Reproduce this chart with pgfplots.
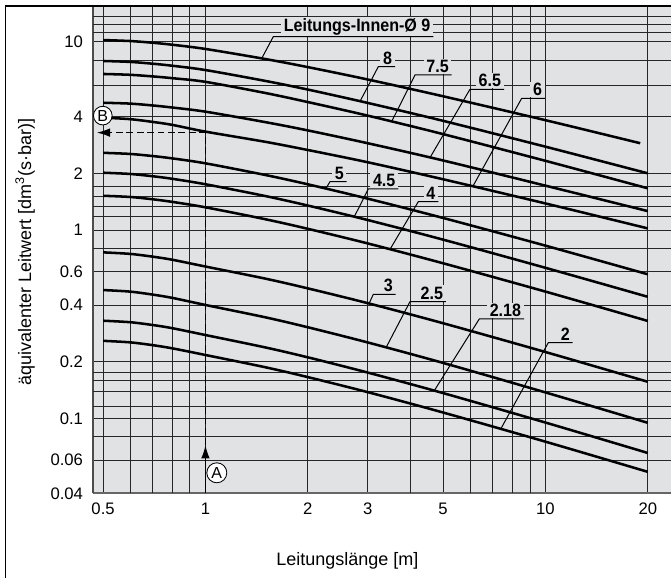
\documentclass[border=0pt]{standalone}
\usepackage{pgfplots}
\pgfplotsset{compat=1.18}
\usepackage{fontspec}
\setmainfont{Liberation Sans}
\newfontfamily\condfont[FakeStretch=0.9]{Liberation Sans}
\usetikzlibrary{arrows.meta}
\definecolor{bg}{RGB}{225,226,228}
\tikzset{
  curve/.style={black, line width=1.9pt, smooth, tension=0.5},
  lbl/.style={font=\condfont\bfseries\fontsize{13.4}{15}\selectfont, fill=bg, inner xsep=2pt, inner ysep=1pt, text=black},
  ldr/.style={black, line width=0.75pt},
}
\begin{document}
\begin{tikzpicture}
\path[use as bounding box] (0,0) rectangle (503.25pt,433.5pt);
\begin{axis}[
  at={(69.75pt,63.525pt)}, anchor=south west,
  scale only axis, width=433.5pt, height=365.475pt,
  xmode=log, ymode=log,
  xmin=0.467, xmax=23.4, ymin=0.04, ymax=15.47,
  axis background/.style={fill=bg},
  axis x line*=bottom, axis y line*=left,
  x axis line style={draw=black!60, line width=1.6pt},
  y axis line style={draw=black!70, line width=1pt},
  xtick={0.5,1,2,3,5,10,20}, xticklabels={0.5,1,2,3,5,10,20},
  extra x ticks={0.6,0.7,0.8,0.9,4,6,7,8,9}, extra x tick labels={},
  ytick={0.04,0.06,0.1,0.2,0.4,0.6,1,2,4,10},
  yticklabels={0.04,0.06,0.1,0.2,0.4,0.6,1,2,4,10},
  extra y ticks={0.08,0.1152,0.1384,0.1598,0.1746,0.8,1.187,1.329,1.503,1.713,5.85,8,11.16,12.42,13.69},
  extra y tick labels={},
  grid=major, major grid style={black!85, line width=0.6pt},
  extra tick style={grid=major, major grid style={black!85, line width=0.6pt}},
  major tick length=0pt, minor tick num=0, tick style={draw=none},
  xticklabel style={font=\fontsize{12.5}{14}\selectfont, inner sep=0pt, anchor=north, yshift=-7.3pt},
  yticklabel style={font=\fontsize{12.5}{14}\selectfont, inner sep=0pt, anchor=east, xshift=-7.3pt},
]
% Leitungs-Innen-Ø 9
\addplot[curve] coordinates {(0.5,10.2) (0.6,10.08) (0.7,9.87) (0.8,9.63) (1,9.15) (1.5,8.09) (2,7.33) (3,6.30) (5,5.13) (10,3.83) (19,2.89)};
% 8
\addplot[curve] coordinates {(0.5,7.9) (0.6,7.81) (0.7,7.64) (0.8,7.45) (1,7.07) (1.5,6.19) (2,5.57) (3,4.73) (5,3.80) (10,2.77) (20,2.0)};
% 7.5
\addplot[curve] coordinates {(0.5,6.74) (0.6,6.67) (0.7,6.54) (0.8,6.40) (1,6.12) (1.5,5.34) (2,4.78) (3,4.05) (5,3.23) (10,2.33) (20,1.665)};
% 6.5
\addplot[curve] coordinates {(0.5,4.74) (0.6,4.69) (0.7,4.585) (0.8,4.47) (1,4.25) (1.5,3.74) (2,3.38) (3,2.89) (5,2.34) (10,1.72) (20,1.26)};
% 6
\addplot[curve] coordinates {(0.5,3.95) (0.6,3.88) (0.7,3.75) (0.8,3.615) (1,3.33) (1.5,2.94) (2,2.66) (3,2.29) (5,1.86) (10,1.384) (20,1.02)};
% 5
\addplot[curve] coordinates {(0.5,2.57) (0.6,2.535) (0.7,2.47) (0.8,2.40) (1,2.26) (1.5,1.96) (2,1.749) (3,1.468) (5,1.159) (10,0.826) (20,0.582)};
% 4.5
\addplot[curve] coordinates {(0.5,2.015) (0.6,1.985) (0.7,1.93) (0.8,1.87) (1,1.75) (1.5,1.515) (2,1.349) (3,1.13) (5,0.889) (10,0.630) (20,0.442)};
% 4
\addplot[curve] coordinates {(0.5,1.52) (0.6,1.498) (0.7,1.456) (0.8,1.41) (1,1.32) (1.5,1.141) (2,1.015) (3,0.849) (5,0.666) (10,0.471) (20,0.329)};
% 3
\addplot[curve] coordinates {(0.5,0.761) (0.6,0.747) (0.7,0.722) (0.8,0.695) (1,0.64) (1.5,0.552) (2,0.490) (3,0.409) (5,0.32) (10,0.225) (20,0.1564)};
% 2.5
\addplot[curve] coordinates {(0.5,0.48) (0.6,0.471) (0.7,0.454) (0.8,0.436) (1,0.40) (1.5,0.344) (2,0.3046) (3,0.253) (5,0.197) (10,0.1373) (20,0.0947)};
% 2.18
\addplot[curve] coordinates {(0.5,0.33) (0.6,0.324) (0.7,0.313) (0.8,0.301) (1,0.277) (1.5,0.238) (2,0.2109) (3,0.1751) (5,0.1362) (10,0.095) (20,0.0655)};
% 2
\addplot[curve] coordinates {(0.5,0.258) (0.6,0.2533) (0.7,0.2447) (0.8,0.2353) (1,0.217) (1.5,0.1868) (2,0.1656) (3,0.1378) (5,0.1074) (10,0.0752) (20,0.052)};

% labels
\node[lbl, anchor=base east] at (rel axis cs:0.5888,0.9472) {Leitungs-Innen-Ø 9};
\node[lbl, anchor=base east] at (rel axis cs:0.5225,0.8806) {8};
\node[lbl, anchor=base east] at (rel axis cs:0.6206,0.8636) {7.5};
\node[lbl, anchor=base east] at (rel axis cs:0.7111,0.8342) {6.5};
\node[lbl, anchor=base east] at (rel axis cs:0.7820,0.8157) {6};
\node[lbl, anchor=base east] at (rel axis cs:0.4389,0.6446) {5};
\node[lbl, anchor=base east] at (rel axis cs:0.5282,0.6296) {4.5};
\node[lbl, anchor=base east] at (rel axis cs:0.5974,0.6035) {4};
\node[lbl, anchor=base east] at (rel axis cs:0.5237,0.4135) {3};
\node[lbl, anchor=base east] at (rel axis cs:0.6107,0.3983) {2.5};
\node[lbl, anchor=base east] at (rel axis cs:0.7457,0.3628) {2.18};
\node[lbl, anchor=base east] at (rel axis cs:0.8299,0.3142) {2};

\draw[ldr] (axis cs:1.464,8.15) -- (rel axis cs:0.3119,0.9370) -- (rel axis cs:0.5888,0.9370);
\draw[ldr] (axis cs:2.85,4.83) -- (rel axis cs:0.4936,0.8754) -- (rel axis cs:0.5225,0.8754);
\draw[ldr] (axis cs:3.53,3.77) -- (rel axis cs:0.5571,0.8584) -- (rel axis cs:0.6206,0.8584);
\draw[ldr] (axis cs:4.58,2.43) -- (rel axis cs:0.6522,0.8291) -- (rel axis cs:0.7111,0.8291);
\draw[ldr] (axis cs:6.12,1.71) -- (rel axis cs:0.7417,0.8106) -- (rel axis cs:0.7820,0.8106);
\draw[ldr] (axis cs:2.26,1.66) -- (rel axis cs:0.4100,0.6394) -- (rel axis cs:0.4389,0.6394);
\draw[ldr] (axis cs:2.74,1.176) -- (rel axis cs:0.4763,0.6245) -- (rel axis cs:0.5282,0.6245);
\draw[ldr] (axis cs:3.49,0.79) -- (rel axis cs:0.5628,0.5984) -- (rel axis cs:0.5974,0.5984);
\draw[ldr] (axis cs:3.03,0.4078) -- (rel axis cs:0.4850,0.4084) -- (rel axis cs:0.5237,0.4084);
\draw[ldr] (axis cs:3.4,0.238) -- (rel axis cs:0.5484,0.3932) -- (rel axis cs:0.6107,0.3932);
\draw[ldr] (axis cs:4.71,0.1403) -- (rel axis cs:0.6683,0.3577) -- (rel axis cs:0.7457,0.3577);
\draw[ldr] (axis cs:7.39,0.0879) -- (rel axis cs:0.7877,0.3091) -- (rel axis cs:0.8299,0.3091);

% reading example A -> B
\draw[black, line width=1.1pt, dash pattern=on 5pt off 2.8pt] (axis cs:1,0.0721) -- (axis cs:1,3.29) -- (axis cs:0.52,3.29);
\draw[black, line width=1.1pt, -{Latex[length=10pt,width=6.5pt]}] (axis cs:1,0.04) -- (axis cs:1,0.0721);
\draw[black, line width=1.1pt, -{Latex[length=10pt,width=6.5pt]}] (axis cs:0.53,3.29) -- (axis cs:0.479,3.29);
\node[circle, draw=black, fill=white, line width=0.65pt, inner sep=0pt, minimum size=15pt, font=\fontsize{12}{12}\selectfont] at (axis cs:1.08,0.0514) {A};
\node[circle, draw=black, fill=white, line width=0.65pt, inner sep=0pt, minimum size=14pt, font=\fontsize{12}{12}\selectfont] at (axis cs:0.499,4.05) {B};
\end{axis}
% outer frame
\draw[black, line width=1.1pt] (4.1pt,-1pt) -- (4.1pt,429pt) -- (504pt,429pt);
% axis titles
\node[font=\fontsize{13.5}{15}\selectfont, anchor=base] at (260.6pt,9pt) {Leitungslänge [m]};
\node[font=\fontsize{13.5}{15}\selectfont, rotate=90] at (18.75pt,244.5pt) {äquivalenter Leitwert [dm\textsuperscript{3}(s·bar)]};
\end{tikzpicture}
\end{document}
